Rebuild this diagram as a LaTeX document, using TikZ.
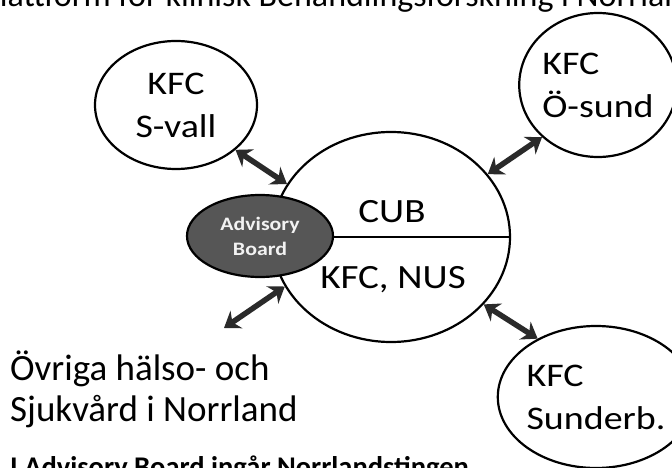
\documentclass[tikz,border=0pt]{standalone}
\usepackage{fontspec}
\setmainfont{Carlito}
\newfontfamily\diagfont{Carlito}[FakeStretch=1.15]
\usetikzlibrary{shapes.geometric,arrows.meta}
\definecolor{boardgray}{HTML}{565656}
\definecolor{arrowgray}{HTML}{2A2A2A}
\tikzstyle{hub} = [draw, ellipse, line width=2.2pt]
\tikzstyle{kfc} = [draw, ellipse, line width=2.2pt, align=left, inner sep=0pt, font=\diagfont\fontsize{33}{43}\selectfont]
\tikzstyle{board} = [draw, ellipse, fill=boardgray, line width=2.2pt, text=gray!10, align=center, inner sep=0pt, font=\diagfont\bfseries\fontsize{19}{25}\selectfont]
\tikzstyle{cubtext} = [inner sep=0pt, font=\diagfont\fontsize{34}{40}\selectfont]
\tikzstyle{link} = [draw=arrowgray, line width=5.5pt, {Stealth[length=15pt,width=21pt]}-{Stealth[length=15pt,width=21pt]}]

\begin{document}
\begin{tikzpicture}[x=1pt, y=-1pt]
        \useasboundingbox (0,0) rectangle (672,468);
        \clip (0,0) rectangle (672,468);
        % title, cut at the top
        \node[anchor=base west, inner sep=0pt, font=\fontsize{34}{40}\selectfont] (title) at (-18,7) {Plattform för klinisk Behandlingsforskning i Norrland};
        % CUB in the middle
        \node[hub, minimum width=238pt, minimum height=210pt] (cub) at (391,237) {};
        \draw[line width=2.2pt] (cub.west) -- (cub.east);
        \node[cubtext] (cubname) at (392,212) {CUB};
        \node[cubtext] (nus) at (393,280) {KFC, NUS};
        \node[board, minimum width=146pt, minimum height=82pt] (board) at (260,236) {Advisory\\Board};
        % the other KFC
        \node[kfc, align=center, minimum width=162pt, minimum height=128pt] (svall) at (176,105) {KFC\\S-vall};
        \node[kfc, minimum width=152pt, minimum height=144pt] (osund) at (598,85) {KFC\\Ö-sund};
        \node[kfc, minimum width=146pt, minimum height=142pt] (sunderb) at (596,397) {KFC\\Sunderb.};
        % rest of Norrland
        \node[anchor=base west, align=left, inner sep=0pt, font=\fontsize{37}{41}\selectfont] (ovriga) at (10,421) {Övriga hälso- och\\Sjukvård i Norrland};
        \coordinate (ovrigatip) at (224,328);
        \node[anchor=base west, inner sep=0pt, font=\bfseries\fontsize{28.5}{32}\selectfont] (note) at (10,476) {I Advisory Board ingår Norrlandstingen};
        \path[link] (svall.-37) -- (cub.153);
        \path[link] (osund.223) -- (cub.33);
        \path[link] (sunderb.135) -- (cub.-36);
        \path[link] (ovrigatip) -- (cub.205);
    \end{tikzpicture}
\end{document}
